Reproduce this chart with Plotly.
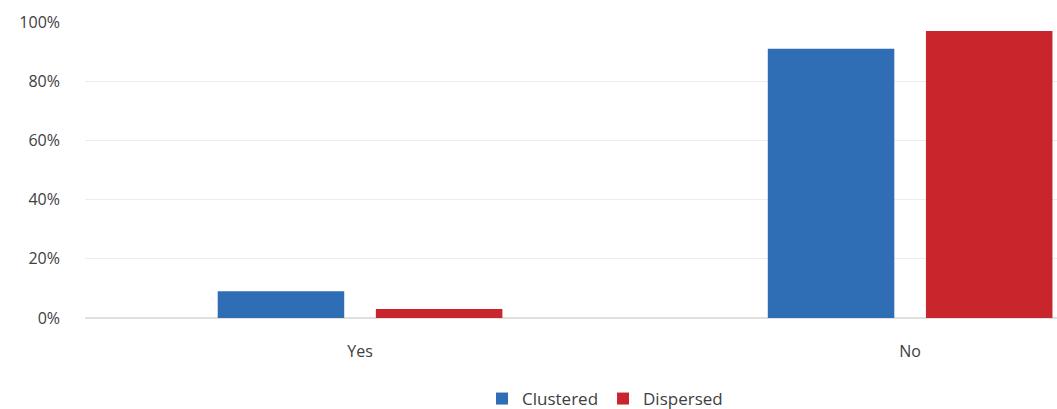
import plotly.graph_objects as go

categories = ["Yes", "No"]
clustered = [9, 91]
dispersed = [3, 97]
y_ticks = [0, 20, 40, 60, 80, 100]
y_tick_labels = ["0%", "20%", "40%", "60%", "80%", "100%"]

font_family = "Open Sans, Liberation Sans, sans-serif"
text_color = "#404040"

fig = go.Figure()
fig.add_trace(go.Bar(name="Clustered", x=categories, y=clustered,
                     marker=dict(color="#2F6DB5", line=dict(width=0))))
fig.add_trace(go.Bar(name="Dispersed", x=categories, y=dispersed,
                     marker=dict(color="#C9252D", line=dict(width=0))))

fig.update_layout(
    width=1057, height=409,
    margin=dict(l=85, r=0, t=22, b=91, autoexpand=False),
    paper_bgcolor="white", plot_bgcolor="white",
    barmode="group", bargap=0.425, bargroupgap=0.2,
    font=dict(family=font_family, size=16, color=text_color),
    showlegend=True,
    legend=dict(orientation="h", xref="container", x=482 / 1057, xanchor="left",
                yref="container", y=10 / 409, yanchor="middle",
                font=dict(size=17, color=text_color), itemwidth=30, tracegroupgap=0),
)
fig.update_xaxes(type="category", range=[-0.5, 1.267], showgrid=False, zeroline=False,
                 showline=False, ticks="", ticklabelstandoff=22,
                 tickfont=dict(size=16, color=text_color))
fig.update_yaxes(range=[0, 100], tickvals=y_ticks, ticktext=y_tick_labels,
                 showgrid=True, gridcolor="#ececec", gridwidth=1, zeroline=True,
                 zerolinecolor="#e0e0e0", showline=False, ticks="", ticklabelstandoff=24,
                 tickfont=dict(size=16, color=text_color))

fig.write_html("out.html")
